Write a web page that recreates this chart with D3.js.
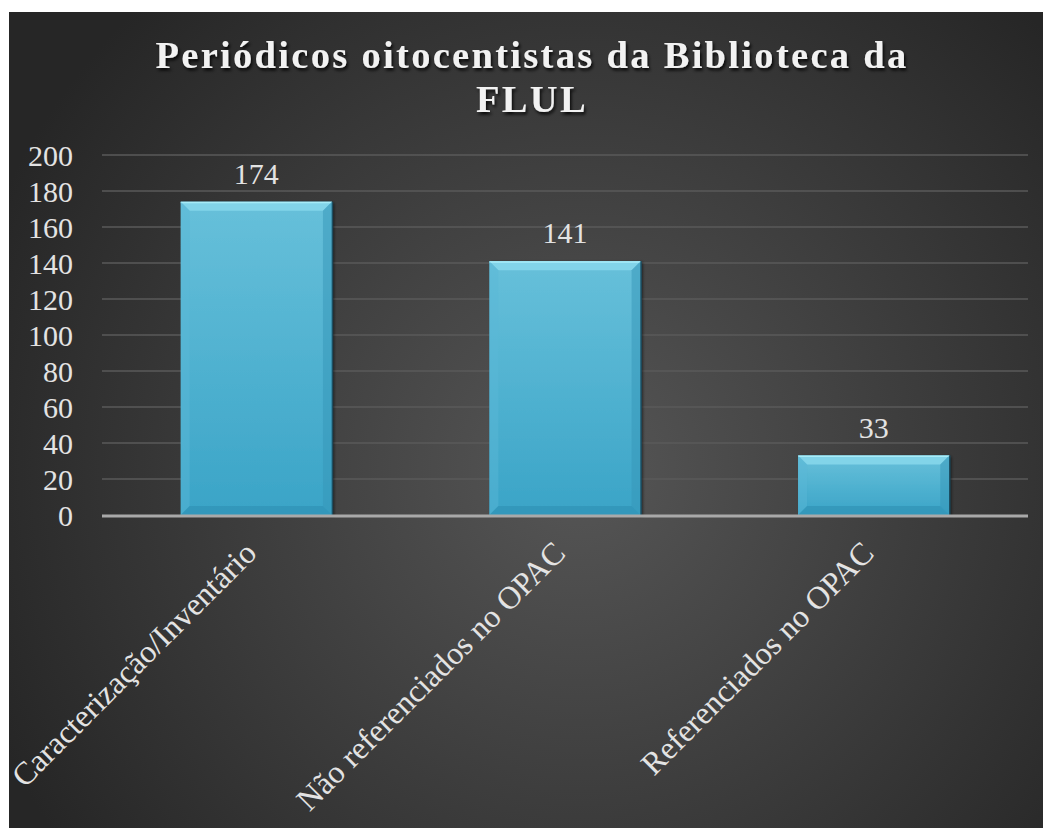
<!DOCTYPE html>
<html><head><meta charset="utf-8">
<script src="https://cdn.jsdelivr.net/npm/d3@7"></script>
<style>body{margin:0;background:#fff;} svg{display:block;} text{font-family:'Liberation Serif','Times New Roman',serif;}</style>
</head><body>
<svg id="chart" width="1043" height="828"></svg>
<script>
const titleLines = ["Periódicos oitocentistas da Biblioteca da", "FLUL"];
const categories = ["Caracterização/Inventário", "Não referenciados no OPAC", "Referenciados no OPAC"];
const values = [174, 141, 33];
const yTicks = [0, 20, 40, 60, 80, 100, 120, 140, 160, 180, 200];

(function(){
const FONT = "'Liberation Serif','Times New Roman',serif";
const svg = d3.select("#chart");
const defs = svg.append("defs");

const bg = defs.append("radialGradient").attr("id","bg")
  .attr("gradientUnits","userSpaceOnUse").attr("cx",580).attr("cy",470).attr("r",640);
bg.append("stop").attr("offset","0%").attr("stop-color","#565656");
bg.append("stop").attr("offset","100%").attr("stop-color","#262626");

const bar = defs.append("linearGradient").attr("id","bar").attr("x1",0).attr("y1",0).attr("x2",0).attr("y2",1);
bar.append("stop").attr("offset","0%").attr("stop-color","#67c0da");
bar.append("stop").attr("offset","100%").attr("stop-color","#3aa4c7");

const sh = defs.append("filter").attr("id","tshadow").attr("x","-10%").attr("y","-30%").attr("width","120%").attr("height","160%");
sh.append("feDropShadow").attr("dx",1.5).attr("dy",2.5).attr("stdDeviation",1.6).attr("flood-color","#000").attr("flood-opacity",0.85);

const bsh = defs.append("filter").attr("id","bshadow").attr("x","-10%").attr("y","-10%").attr("width","125%").attr("height","120%");
bsh.append("feDropShadow").attr("dx",2).attr("dy",1).attr("stdDeviation",1.5).attr("flood-color","#000").attr("flood-opacity",0.6);

svg.append("rect").attr("x",9).attr("y",12).attr("width",1043-9).attr("height",828-12).attr("fill","url(#bg)");

const pLeft = 102, pRight = 1028, pTop = 155, pBottom = 515;
const x = d3.scaleBand().domain(categories).range([pLeft, pRight]).paddingInner(0.51).paddingOuter(0.255);
const y = d3.scaleLinear().domain([0, 200]).range([pBottom, pTop]);

svg.append("g").selectAll("line").data(yTicks.filter(d => d > 0)).join("line")
  .attr("x1", pLeft).attr("x2", pRight)
  .attr("y1", d => y(d)).attr("y2", d => y(d))
  .attr("stroke", "#5a5a5a").attr("stroke-width", 1.5);

const yAxis = d3.axisLeft(y).tickValues(yTicks).tickSize(0).tickPadding(0);
const ya = svg.append("g").attr("transform", `translate(73,0)`).call(yAxis)
  .attr("font-family", null).attr("font-size", null);
ya.select(".domain").remove();
ya.selectAll("text").attr("fill","#e3e3e3").style("font-family", FONT)
  .style("font-size", "30px").attr("dy","0.34em");

const bevel = 9;
const gb = svg.append("g");
categories.forEach((c, i) => {
  const x0 = x(c), w = x.bandwidth(), y0 = y(values[i]), h = pBottom - y0;
  const g = gb.append("g");
  g.append("rect").attr("x", x0).attr("y", y0).attr("width", w).attr("height", h)
    .attr("fill","url(#bar)").attr("filter","url(#bshadow)");
  const b = Math.min(bevel, h / 2);
  g.append("path").attr("d", `M${x0},${y0} L${x0+w},${y0} L${x0+w-b},${y0+b} L${x0+b},${y0+b} Z`).attr("fill","#82d4e9");
  g.append("line").attr("x1",x0).attr("x2",x0+w).attr("y1",y0+0.75).attr("y2",y0+0.75).attr("stroke","#a8ecf8").attr("stroke-width",1.5);
  g.append("path").attr("d", `M${x0},${y0} L${x0+b},${y0+b} L${x0+b},${pBottom-b} L${x0},${pBottom} Z`).attr("fill","#5ab9d6").attr("opacity",0.45);
  g.append("path").attr("d", `M${x0+w},${y0} L${x0+w-b},${y0+b} L${x0+w-b},${pBottom-b} L${x0+w},${pBottom} Z`).attr("fill","#3596b8").attr("opacity",0.5);
  g.append("path").attr("d", `M${x0},${pBottom} L${x0+b},${pBottom-b} L${x0+w-b},${pBottom-b} L${x0+w},${pBottom} Z`).attr("fill","#2f90b2").attr("opacity",0.6);
  g.append("line").attr("x1",x0+w+0.5).attr("x2",x0+w+0.5).attr("y1",y0).attr("y2",pBottom).attr("stroke","#1d4f62").attr("stroke-width",1.5);
});

svg.append("line").attr("x1", pLeft).attr("x2", pRight).attr("y1", pBottom+1).attr("y2", pBottom+1)
  .attr("stroke","#a9a9a9").attr("stroke-width",3);

svg.append("g").selectAll("text").data(categories).join("text")
  .attr("x", d => x(d) + x.bandwidth()/2)
  .attr("y", (d, i) => y(values[i]) - 18)
  .attr("text-anchor","middle").attr("fill","#e3e3e3")
  .style("font-family", FONT).style("font-size", "30px")
  .text((d, i) => values[i]);

svg.append("g").selectAll("text").data(categories).join("text")
  .attr("transform", d => `translate(${x(d) + x.bandwidth()/2 + 2},${555}) rotate(-45)`)
  .attr("text-anchor","end").attr("fill","#e3e3e3")
  .style("font-family", FONT).style("font-size", "32px")
  .text(d => d);

svg.append("g").selectAll("text").data(titleLines).join("text")
  .attr("x", 532).attr("y", (d, i) => 68 + i * 44)
  .attr("text-anchor","middle").attr("fill","#f2f2f2")
  .style("font-family", FONT).attr("font-weight","bold")
  .style("font-size", "38.5px").attr("letter-spacing", 2.3).attr("filter","url(#tshadow)")
  .text(d => d);
})();
</script>
</body></html>
